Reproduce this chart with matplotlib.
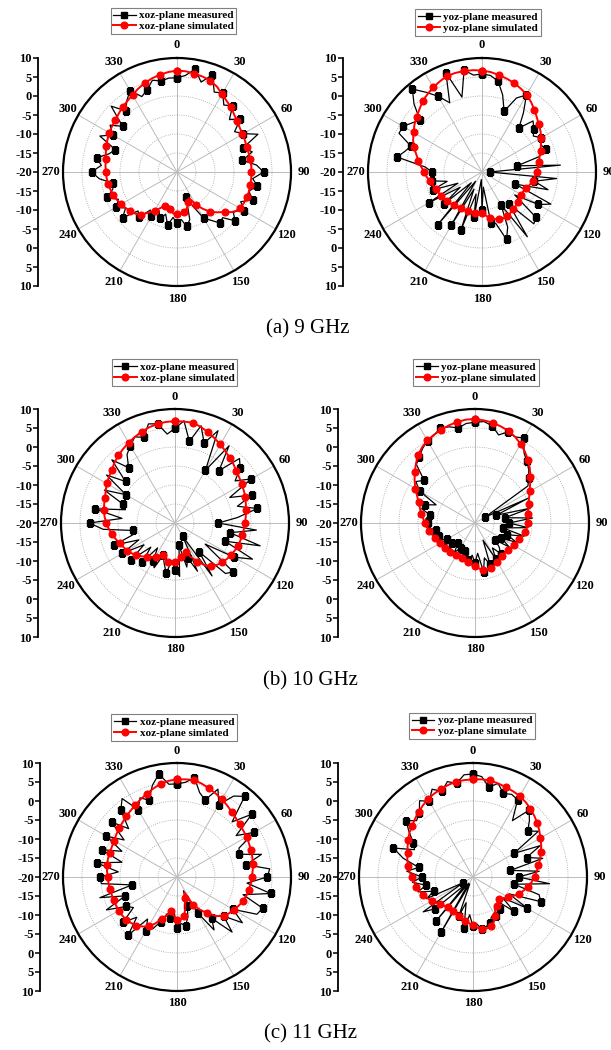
import numpy as np
import matplotlib
matplotlib.use('Agg')
import matplotlib.pyplot as plt

plt.rcParams['font.family'] = ['Liberation Serif', 'DejaVu Serif']

# angles in degrees, 5 deg step (values in dB, -20 at the centre, 10 at the rim)
ang = np.arange(0, 360, 5)

# (a) 9 GHz
sim_a_xoz = [6.7, 6.6, 6.3, 6.0, 5.6, 4.8, 3.7, 2.8, 2.2, 1.3, 0.7, 0.2,
             -0.1, -0.3, -0.5, -0.5, -0.5, -0.4, -0.4, -0.4, -0.4, -0.4, -0.4, -0.6,
             -0.9, -1.6, -3.6, -5.0, -6.3, -8.2, -10.0, -12.4, -11.5, -10.0, -9.2, -9.0,
             -9.0, -9.0, -10.0, -10.9, -10.5, -9.5, -8.2, -7.0, -5.2, -4.5, -4.0, -3.5,
             -3.0, -2.6, -2.1, -1.9, -1.6, -1.4, -1.3, -1.1, -1.0, -0.6, -0.2, 0.2,
             0.6, 0.9, 1.2, 1.7, 2.3, 2.8, 3.4, 4.2, 4.9, 5.5, 6.0, 6.4]
meas_a_xoz = [4.8, 5.5, 7.5, 4.5, 7.2, 3.2, 4.0, 1.5, 2.8, -0.5, 1.8, -1.5,
              0.2, 3.5, -1.5, 0.5, -2.5, 1.0, 2.8, 0.0, 1.5, -0.5, 1.3, -1.5,
              0.5, -2.0, 0.0, -3.0, -2.5, -4.5, -6.0, -10.0, -13.0, -7.0, -5.5, -7.5,
              -6.5, -8.0, -5.8, -8.5, -7.0, -8.8, -6.5, -7.8, -4.5, -5.5, -1.3, -3.5,
              -1.5, -3.0, -0.5, -2.5, -2.9, 0.5, 2.5, 0.0, 1.5, -1.5, -2.7, 2.4,
              -0.5, 1.5, -1.3, 4.5, 1.0, 3.0, 4.7, 1.9, 3.0, 5.0, 4.3, 4.8]
sim_a_yoz = [6.7, 6.4, 5.9, 5.4, 4.9, 4.2, 3.5, 2.5, 1.4, 0.4, -0.5, -1.2,
             -2.0, -2.9, -3.6, -4.3, -4.8, -5.2, -5.6, -6.0, -6.4, -7.0, -7.6, -8.0,
             -8.0, -7.8, -7.6, -7.4, -7.2, -6.9, -6.6, -6.6, -6.7, -7.2, -7.7, -8.5,
             -9.2, -9.2, -9.1, -9.1, -9.0, -9.0, -9.0, -8.8, -8.5, -8.3, -8.0, -7.8,
             -7.6, -7.3, -7.0, -6.6, -6.0, -5.4, -4.8, -3.9, -3.0, -2.1, -0.9, 0.0,
             0.8, 1.7, 2.5, 3.3, 4.3, 5.0, 5.7, 6.3, 6.9, 7.0, 7.0, 6.9]
meas_a_yoz = [5.8, 5.5, 4.3, 1.0, -3.0, 1.5, 3.4, -1.0, -4.9, -1.0, -2.2, -3.5,
              -2.0, -3.0, -2.1, -4.5, -10.6, 0.7, -18.0, -0.3, -6.0, -2.0, -10.7, 0.0,
              -2.9, -9.5, -1.5, -0.7, -9.0, 0.8, -10.0, -4.0, -1.1, -6.0, -6.5, -16.0,
              -10.0, -18.0, -8.0, -14.0, -3.8, -15.0, -3.8, -17.0, -1.8, -16.0, -6.8, -13.0,
              -3.9, -13.0, -6.3, -10.5, -6.6, -7.0, -6.9, -5.0, 2.7, 1.0, -0.1, 4.1,
              4.0, 2.5, 1.3, 5.3, 8.5, 5.6, 3.0, 0.1, 7.8, 0.4, 7.2, 5.6]

# (b) 10 GHz
sim_b_xoz = [6.8, 6.8, 6.8, 6.2, 5.4, 4.6, 3.9, 3.1, 2.4, 1.8, 1.1, 0.7,
             0.3, 0.0, -0.3, -0.7, -1.0, -1.3, -1.6, -1.8, -2.0, -2.2, -2.4, -2.7,
             -3.0, -3.4, -3.9, -4.4, -5.2, -6.5, -8.3, -10.2, -11.8, -11.3, -10.8, -10.2,
             -9.8, -9.7, -9.6, -10.2, -10.9, -10.4, -9.8, -9.1, -8.4, -7.6, -6.7, -6.1,
             -5.5, -5.0, -4.5, -3.8, -3.2, -2.5, -1.9, -1.4, -1.0, -0.7, -0.4, 0.1,
             0.8, 1.2, 1.7, 2.5, 3.2, 3.8, 4.4, 5.0, 5.6, 6.1, 6.5, 6.7]
meas_b_xoz = [4.9, 7.0, 1.8, 6.5, 2.4, 6.8, -4.0, 4.8, -2.0, 4.0, 2.4, -0.7,
              3.2, -4.1, 1.5, -3.0, 2.0, -3.5, -8.6, 1.5, -5.3, 3.2, -6.0, 2.5,
              -2.0, -10.3, 0.0, -1.2, -10.0, -3.0, -16.0, -6.0, -10.2, -8.0, -14.0, -5.9,
              -7.6, -10.0, -6.6, -9.0, -11.0, -7.0, -8.4, -12.0, -6.5, -11.0, -5.0, -10.0,
              -4.0, -9.5, -3.0, -9.0, -8.7, -1.0, 2.5, -6.0, 1.5, -6.5, -5.4, 0.5,
              -5.1, 2.0, -3.0, 3.5, -1.0, 2.0, 3.5, 5.0, 4.0, 7.0, 6.5, 3.5]
sim_b_yoz = [7.4, 7.1, 6.8, 6.3, 5.8, 5.0, 4.0, 2.9, 1.7, 0.4, -1.0, -2.3,
             -3.4, -4.3, -5.0, -5.5, -5.8, -6.0, -6.1, -6.3, -6.6, -7.1, -7.6, -8.0,
             -8.3, -8.6, -8.8, -8.9, -8.8, -8.6, -8.3, -7.8, -7.4, -7.3, -7.5, -8.0,
             -8.7, -9.1, -9.5, -9.9, -10.1, -10.3, -10.2, -10.0, -9.9, -9.8, -9.7, -9.5,
             -9.3, -9.0, -8.7, -8.3, -7.8, -7.3, -6.8, -6.3, -5.7, -5.0, -4.2, -3.2,
             -1.9, -0.6, 0.7, 2.0, 3.3, 4.3, 5.1, 5.6, 6.1, 6.6, 7.0, 7.3]
meas_b_yoz = [6.5, 6.8, 6.0, 4.0, 5.5, 5.0, 5.8, 2.5, 1.2, 0.0, -1.5, -3.0,
              -17.0, -4.5, -14.0, -5.0, -12.0, -4.8, -11.0, -6.0, -12.5, -6.6, -11.0, -8.0,
              -12.0, -9.0, -13.0, -11.0, -9.5, -12.0, -9.0, -15.0, -8.5, -10.5, -7.0, -12.0,
              -9.5, -11.5, -10.0, -12.5, -12.2, -11.0, -12.5, -10.5, -13.0, -10.0, -12.0, -9.8,
              -11.5, -9.0, -10.0, -8.5, -9.5, -7.2, -7.5, -7.0, -8.0, -5.5, -6.0, -8.7,
              -3.2, -1.0, -2.5, 1.8, 2.8, 4.0, 5.0, 5.5, 6.6, 6.2, 5.4, 6.3]

# (c) 11 GHz
sim_c_xoz = [5.7, 5.8, 5.9, 5.4, 4.8, 4.2, 3.6, 3.0, 2.4, 1.9, 1.5, 1.3,
             1.2, 0.9, 0.7, 0.5, 0.3, 0.0, -0.3, -0.5, -0.8, -1.1, -1.5, -2.1,
             -2.7, -3.3, -4.0, -5.5, -7.6, -9.5, -11.6, -15.5, -14.0, -11.5, -9.5, -8.8,
             -8.6, -9.8, -10.8, -9.5, -8.3, -6.5, -5.0, -4.1, -3.3, -2.9, -2.5, -2.4,
             -2.3, -2.3, -2.3, -2.2, -2.0, -1.9, -1.8, -1.5, -1.3, -1.2, -1.2, -1.1,
             -0.9, -0.5, -0.1, 0.3, 0.8, 1.3, 1.9, 2.6, 3.3, 4.1, 4.9, 5.4]
meas_c_xoz = [4.5, 5.0, 6.5, 3.0, 1.6, 5.5, 2.0, 6.0, 7.7, 0.5, 5.7, -1.0,
              3.5, -2.0, -2.5, 3.0, -1.5, 4.5, 3.7, -1.5, 5.0, -2.0, 4.0, 3.2,
              -3.0, 1.0, -4.0, 0.5, -5.8, -3.0, -9.0, -16.0, -12.0, -9.0, -7.0, -7.7,
              -6.5, -11.0, -9.0, -10.0, -7.5, -5.0, -3.7, -6.5, 0.0, -5.0, -1.5, -6.0,
              -4.5, 0.5, -5.5, 1.0, -8.0, 0.0, 0.2, -4.5, 1.5, -5.0, 1.0, -4.0,
              1.5, -3.0, 2.5, -2.0, 3.0, 5.2, 0.5, 3.0, 1.5, 5.0, 7.5, 4.5]
sim_c_yoz = [5.7, 5.8, 5.8, 5.5, 5.2, 4.9, 4.6, 4.1, 3.5, 2.8, 2.1, 1.3,
             0.5, -0.2, -1.0, -1.7, -2.5, -3.2, -3.8, -4.5, -5.3, -6.2, -7.2, -8.2,
             -9.3, -10.2, -10.9, -10.8, -10.2, -9.6, -8.3, -7.0, -6.2, -6.0, -6.1, -6.6,
             -7.3, -7.8, -8.2, -8.7, -9.1, -9.4, -9.6, -9.6, -9.6, -9.3, -8.8, -8.2,
             -7.4, -6.8, -6.1, -5.5, -4.9, -4.4, -3.9, -3.2, -2.6, -2.1, -1.7, -1.0,
             -0.3, 0.4, 0.9, 1.6, 2.3, 3.0, 3.7, 4.2, 4.6, 5.1, 5.5, 5.6]
meas_c_yoz = [7.1, 6.5, 4.0, 5.5, 3.4, 4.0, 3.5, -1.9, 3.0, 1.0, -1.2, 1.0,
              -7.6, -0.5, -5.0, -1.0, -10.0, -2.5, -8.0, 0.2, -9.0, -2.0, -1.0, -9.5,
              -3.5, -10.5, -6.0, -11.0, -9.0, -10.0, -8.0, -8.5, -7.0, -6.5, -6.0, -7.5,
              -7.0, -10.0, -6.4, -13.0, -9.0, -18.0, -3.2, -18.0, -5.0, -17.5, -7.0, -4.0,
              -17.0, -6.5, -9.0, -5.0, -7.5, -4.0, -6.5, -2.5, -5.5, -1.0, 2.3, -3.0,
              -1.9, 0.5, 3.0, 1.0, 2.0, 4.5, 3.0, 5.5, 4.0, 6.0, 5.0, 7.0]

W, H = 611, 1050
R = 114
fig = plt.figure(figsize=(W / 100, H / 100), dpi=100)


def panel(cx, cy, axx, sim, meas, names, leg):
    ax = fig.add_axes([(cx - R) / W, (H - cy - R) / H, 2 * R / W, 2 * R / H],
                      projection='polar')
    ax.set_theta_zero_location('N')
    ax.set_theta_direction(-1)
    ax.set_rlim(-20, 10)
    ax.set_rticks([-15, -10, -5, 0, 5])
    ax.set_yticklabels([])
    ax.set_thetagrids(range(0, 360, 30), labels=[str(a) for a in range(0, 360, 30)],
                      fontsize=9, fontweight='bold')
    ax.tick_params(axis='x', pad=-1.5)
    ax.xaxis.grid(True, color='#bbbbbb', lw=0.7, ls='-')
    ax.yaxis.grid(True, color='#a0a0a0', lw=0.6, ls=':')
    ax.spines['polar'].set_linewidth(1.6)

    th = np.deg2rad(np.append(ang, 360))
    m = np.append(meas, meas[0])
    s = np.append(sim, sim[0])
    ax.plot(th, m, color='black', lw=0.9, marker='s', ms=4.5, markevery=2,
            label=names[0])
    ax.plot(th, s, color='red', lw=1.4, marker='o', ms=4.8, markevery=2,
            label=names[1])

    lg = ax.legend(loc='center', bbox_to_anchor=(leg[0] / W, 1 - leg[1] / H),
                   bbox_transform=fig.transFigure, fancybox=False, framealpha=1,
                   edgecolor='#808080', prop={'size': 8, 'weight': 'bold'},
                   handlelength=2.0, borderpad=0.25, labelspacing=0.1,
                   handletextpad=0.3, borderaxespad=0)
    lg.get_frame().set_linewidth(0.8)

    # radial scale drawn as a separate vertical axis on the left
    vax = fig.add_axes([axx / W, (H - cy - R) / H, 0.0001, 2 * R / H])
    vax.set_facecolor('none')
    vax.set_ylim(-30, 30)
    ticks = np.arange(-30, 31, 5)
    vax.set_yticks(ticks)
    vax.set_yticklabels([str(abs(t) - 20) for t in ticks], fontsize=9, fontweight='bold')
    vax.set_xticks([])
    for sp in ['top', 'right', 'bottom']:
        vax.spines[sp].set_visible(False)
    vax.spines['left'].set_linewidth(1.3)
    vax.tick_params(axis='y', direction='out', length=3.5, width=1.1, pad=1)


panel(177, 172, 38, sim_a_xoz, meas_a_xoz,
      ['xoz-plane measured', 'xoz-plane simulated'], (173.5, 21))
panel(482, 172, 343, sim_a_yoz, meas_a_yoz,
      ['yoz-plane measured', 'yoz-plane simulated'], (478, 22.5))
panel(175, 523, 38, sim_b_xoz, meas_b_xoz,
      ['xoz-plane measured', 'xoz-plane simulated'], (174.5, 372.5))
panel(475, 523, 338, sim_b_yoz, meas_b_yoz,
      ['yoz-plane measured', 'yoz-plane simulated'], (476, 372.5))
panel(177, 877, 40, sim_c_xoz, meas_c_xoz,
      ['xoz-plane measured', 'xoz-plane simlated'], (174, 727.5))
panel(473, 877, 338, sim_c_yoz, meas_c_yoz,
      ['yoz-plane measured', 'yoz-plane simulate'], (472, 726))

fig.text(308 / W, 1 - 329 / H, '(a) 9 GHz', ha='center', va='center', fontsize=15)
fig.text(310 / W, 1 - 681 / H, '(b) 10 GHz', ha='center', va='center', fontsize=15)
fig.text(310 / W, 1 - 1034 / H, '(c) 11 GHz', ha='center', va='center', fontsize=15)

fig.savefig('out.png', dpi=100)
